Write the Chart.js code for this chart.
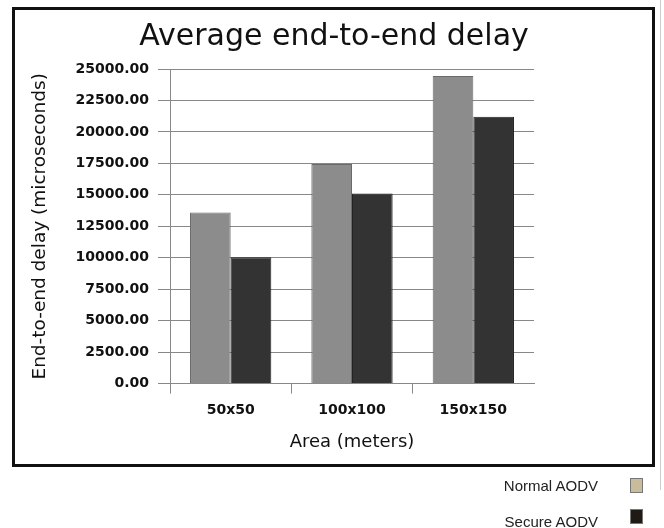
<!DOCTYPE html>
<html>
<head>
<meta charset="utf-8">
<script src="https://cdn.jsdelivr.net/npm/chart.js@4.4.1/dist/chart.umd.min.js"></script>
<style>
  html, body { margin: 0; padding: 0; background: #fff; overflow: hidden; }
  #frame { position: absolute; left: 12px; top: 7px; width: 637px; height: 454px; border: 3px solid #111; }
  #edge { position: absolute; left: 660px; top: 0; width: 1px; height: 490px; background: #ccc; }
  #chart { position: absolute; left: 0; top: 0; }
  .leg { position: absolute; font-family: "Liberation Sans", Arial, sans-serif; font-size: 15px; color: #222; }
  .leg span.txt { position: absolute; right: 0; white-space: nowrap; }
  .swatch { position: absolute; width: 11px; height: 13px; border: 1px solid #777; }
</style>
</head>
<body>
<div id="frame"></div>
<div id="edge"></div>
<canvas id="chart" width="664" height="528"></canvas>
<div id="legend"></div>
<script>
// values
const areas = ['50x50', '100x100', '150x150'];
const normalAodv = [13600, 17450, 24450];
const secureAodv = [10050, 15100, 21200];
const seriesNames = ['Normal AODV', 'Secure AODV'];
const legendColors = ['#c8bc9a', '#1f1b14'];

const ctx = document.getElementById('chart').getContext('2d');
Chart.defaults.font.family = '"DejaVu Sans", sans-serif';
Chart.defaults.color = '#111';

new Chart(ctx, {
    type: 'bar',
    data: {
        labels: areas,
        datasets: [{
            label: seriesNames[0],
            data: normalAodv,
            backgroundColor: '#8c8c8c',
            borderColor: '#6a6a6a',
            borderWidth: 1
        }, {
            label: seriesNames[1],
            data: secureAodv,
            backgroundColor: '#333333',
            borderColor: '#222222',
            borderWidth: 1
        }]
    },
    options: {
        responsive: false,
        animation: false,
        categoryPercentage: 0.67,
        barPercentage: 1.0,
        layout: { padding: { left: 20, right: 16, top: 0, bottom: 71 } },
        plugins: {
            legend: { display: false },
            tooltip: { enabled: false },
            title: {
                display: true,
                text: 'Average end-to-end delay',
                font: { size: 30, weight: 'normal' },
                color: '#111',
                padding: { top: 19, bottom: 14 }
            }
        },
        scales: {
            x: {
                grid: {
                    offset: true,
                    drawOnChartArea: false,
                    tickLength: 10,
                    // the closing line at the far right has no tick context: hide it
                    color: (c) => c.tick ? '#888' : 'rgba(0,0,0,0)'
                },
                border: { color: '#888' },
                ticks: { font: { size: 14, weight: 'bold' }, padding: 8 },
                title: {
                    display: true,
                    text: 'Area (meters)',
                    font: { size: 18 },
                    color: '#111',
                    padding: { top: 5, bottom: 4 }
                }
            },
            y: {
                min: 0,
                max: 25000,
                afterFit: (s) => { s.width = 150; },
                grid: { color: '#888', tickLength: 12 },
                border: { color: '#888' },
                ticks: {
                    stepSize: 2500,
                    padding: 9,
                    font: { size: 14, weight: 'bold' },
                    callback: (v) => v.toFixed(2)
                },
                title: {
                    display: true,
                    text: 'End-to-end delay (microseconds)',
                    font: { size: 18.5 },
                    color: '#111',
                    padding: { top: 9, bottom: 0 }
                }
            },
            // empty spacer on the right so the title centres on the whole frame
            spacer: {
                type: 'linear',
                position: 'right',
                afterFit: (s) => { s.width = 114; },
                grid: { display: false },
                border: { display: false },
                ticks: { display: false }
            }
        }
    }
});

// legend sits outside the framed chart, bottom right
const legend = document.getElementById('legend');
seriesNames.forEach((name, i) => {
    const row = document.createElement('div');
    row.className = 'leg';
    row.style.left = '0px';
    row.style.top = (477 + i * 36) + 'px';
    row.style.width = '598px';
    row.innerHTML = '<span class="txt">' + name + '</span>';
    const box = document.createElement('div');
    box.className = 'swatch';
    box.style.left = '630px';
    box.style.top = (478 + i * 31) + 'px';
    box.style.background = legendColors[i];
    legend.appendChild(row);
    legend.appendChild(box);
});
</script>
</body>
</html>
